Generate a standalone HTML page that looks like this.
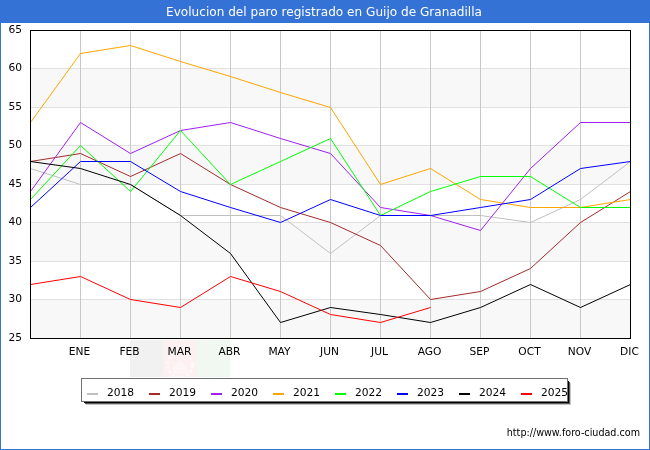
<!DOCTYPE html>
<html><head><meta charset="utf-8"><style>
html,body{margin:0;padding:0;background:#fff;}
#c{position:relative;width:650px;height:450px;overflow:hidden;background:#fff;}
svg text{font-family:"DejaVu Sans", "Liberation Sans", sans-serif;font-size:10.67px;fill:#000;}
</style></head><body><div id="c">
<svg width="650" height="450" viewBox="0 0 650 450">
<rect x="0" y="0" width="650" height="450" fill="#fff"/>
<rect x="0" y="0" width="650" height="23" fill="#3472d6"/>
<rect x="0" y="0" width="1" height="450" fill="#3472d6"/>
<rect x="649" y="0" width="1" height="450" fill="#3472d6"/>
<rect x="0" y="449" width="650" height="1" fill="#3472d6"/>
<text x="324" y="16" text-anchor="middle" style="fill:#fff;font-size:12.1px">Evolucion del paro registrado en Guijo de Granadilla</text>
<g id="flag" opacity="1">
<rect x="130" y="340" width="33" height="37" fill="#f1f1f1"/>
<rect x="163" y="340" width="34" height="37" fill="#fdf0f0"/>
<rect x="197" y="340" width="33" height="37" fill="#f1f8f1"/>
<circle cx="180" cy="365" r="12.5" fill="none" stroke="#fff" stroke-width="3" stroke-dasharray="3 2" opacity="0.5"/>
<path d="M172 370 L180 360 L188 370 Z" fill="#fff" opacity="0.4"/>
<rect x="173" y="371" width="14" height="2" fill="#fff" opacity="0.4"/>
</g>
<rect x="30" y="68" width="600" height="39" fill="#f8f8f8"/>
<rect x="30" y="145" width="600" height="39" fill="#f8f8f8"/>
<rect x="30" y="222" width="600" height="39" fill="#f8f8f8"/>
<rect x="30" y="299" width="600" height="39" fill="#f8f8f8"/>
<rect x="30" y="68" width="600" height="1" fill="#e0e0e0"/>
<rect x="30" y="107" width="600" height="1" fill="#e0e0e0"/>
<rect x="30" y="145" width="600" height="1" fill="#e0e0e0"/>
<rect x="30" y="184" width="600" height="1" fill="#e0e0e0"/>
<rect x="30" y="222" width="600" height="1" fill="#e0e0e0"/>
<rect x="30" y="261" width="600" height="1" fill="#e0e0e0"/>
<rect x="30" y="299" width="600" height="1" fill="#e0e0e0"/>
<rect x="80" y="30" width="1" height="308" fill="#c8c8c8"/>
<rect x="130" y="30" width="1" height="308" fill="#c8c8c8"/>
<rect x="180" y="30" width="1" height="308" fill="#c8c8c8"/>
<rect x="230" y="30" width="1" height="308" fill="#c8c8c8"/>
<rect x="280" y="30" width="1" height="308" fill="#c8c8c8"/>
<rect x="330" y="30" width="1" height="308" fill="#c8c8c8"/>
<rect x="380" y="30" width="1" height="308" fill="#c8c8c8"/>
<rect x="430" y="30" width="1" height="308" fill="#c8c8c8"/>
<rect x="480" y="30" width="1" height="308" fill="#c8c8c8"/>
<rect x="530" y="30" width="1" height="308" fill="#c8c8c8"/>
<rect x="580" y="30" width="1" height="308" fill="#c8c8c8"/>
<polyline points="30.5,168.5 80.5,184.5 130.5,184.5 180.5,215.5 230.5,215.5 280.5,215.5 330.5,253.5 380.5,215.5 430.5,215.5 480.5,215.5 530.5,222.5 580.5,199.5 630.5,161.5" fill="none" stroke="#c0c0c0" stroke-width="1.0" stroke-linejoin="miter"/>
<polyline points="30.5,161.5 80.5,153.5 130.5,176.5 180.5,153.5 230.5,184.5 280.5,207.5 330.5,222.5 380.5,245.5 430.5,299.5 480.5,291.5 530.5,268.5 580.5,222.5 630.5,191.5" fill="none" stroke="#a52a2a" stroke-width="1.0" stroke-linejoin="miter"/>
<polyline points="30.5,191.5 80.5,122.5 130.5,153.5 180.5,130.5 230.5,122.5 280.5,138.5 330.5,153.5 380.5,207.5 430.5,215.5 480.5,230.5 530.5,168.5 580.5,122.5 630.5,122.5" fill="none" stroke="#a020f0" stroke-width="1.0" stroke-linejoin="miter"/>
<polyline points="30.5,122.5 80.5,53.5 130.5,45.5 180.5,61.5 230.5,76.5 280.5,92.5 330.5,107.5 380.5,184.5 430.5,168.5 480.5,199.5 530.5,207.5 580.5,207.5 630.5,199.5" fill="none" stroke="#ffa500" stroke-width="1.0" stroke-linejoin="miter"/>
<polyline points="30.5,199.5 80.5,145.5 130.5,191.5 180.5,130.5 230.5,184.5 280.5,161.5 330.5,138.5 380.5,215.5 430.5,191.5 480.5,176.5 530.5,176.5 580.5,207.5 630.5,207.5" fill="none" stroke="#00ff00" stroke-width="1.0" stroke-linejoin="miter"/>
<polyline points="30.5,207.5 80.5,161.5 130.5,161.5 180.5,191.5 230.5,207.5 280.5,222.5 330.5,199.5 380.5,215.5 430.5,215.5 480.5,207.5 530.5,199.5 580.5,168.5 630.5,161.5" fill="none" stroke="#0000ff" stroke-width="1.0" stroke-linejoin="miter"/>
<polyline points="30.5,161.5 80.5,168.5 130.5,184.5 180.5,215.5 230.5,253.5 280.5,322.5 330.5,307.5 380.5,314.5 430.5,322.5 480.5,307.5 530.5,284.5 580.5,307.5 630.5,284.5" fill="none" stroke="#000000" stroke-width="1.0" stroke-linejoin="miter"/>
<polyline points="30.5,284.5 80.5,276.5 130.5,299.5 180.5,307.5 230.5,276.5 280.5,291.5 330.5,314.5 380.5,322.5 430.5,307.5" fill="none" stroke="#ff0000" stroke-width="1.0" stroke-linejoin="miter"/>
<rect x="30.5" y="30.5" width="600" height="308" fill="none" stroke="#000" stroke-width="1" shape-rendering="crispEdges"/>
<text x="22" y="33" text-anchor="end">65</text>
<text x="22" y="71" text-anchor="end">60</text>
<text x="22" y="110" text-anchor="end">55</text>
<text x="22" y="148" text-anchor="end">50</text>
<text x="22" y="187" text-anchor="end">45</text>
<text x="22" y="225" text-anchor="end">40</text>
<text x="22" y="264" text-anchor="end">35</text>
<text x="22" y="302" text-anchor="end">30</text>
<text x="22" y="341" text-anchor="end">25</text>
<text x="79.5" y="355" text-anchor="middle">ENE</text>
<text x="129.5" y="355" text-anchor="middle">FEB</text>
<text x="179.5" y="355" text-anchor="middle">MAR</text>
<text x="229.5" y="355" text-anchor="middle">ABR</text>
<text x="279.5" y="355" text-anchor="middle">MAY</text>
<text x="329.5" y="355" text-anchor="middle">JUN</text>
<text x="379.5" y="355" text-anchor="middle">JUL</text>
<text x="429.5" y="355" text-anchor="middle">AGO</text>
<text x="479.5" y="355" text-anchor="middle">SEP</text>
<text x="529.5" y="355" text-anchor="middle">OCT</text>
<text x="579.5" y="355" text-anchor="middle">NOV</text>
<text x="629.5" y="355" text-anchor="middle">DIC</text>
<rect x="86" y="404" width="485" height="1" fill="#c4c4c4"/>
<rect x="570" y="383" width="1" height="22" fill="#c4c4c4"/>
<rect x="85" y="403" width="485" height="1" fill="#5a5a5a"/>
<rect x="569" y="382" width="1" height="22" fill="#5a5a5a"/>
<rect x="84" y="381" width="485" height="22" fill="#000"/>
<rect x="81.5" y="378.5" width="486" height="23" fill="#fff" stroke="#707070" stroke-width="1"/>
<rect x="87" y="393" width="11" height="2" fill="#c0c0c0"/>
<text x="107" y="396">2018</text>
<rect x="149" y="393" width="11" height="2" fill="#a52a2a"/>
<text x="169" y="396">2019</text>
<rect x="211" y="393" width="11" height="2" fill="#a020f0"/>
<text x="231" y="396">2020</text>
<rect x="273" y="393" width="11" height="2" fill="#ffa500"/>
<text x="293" y="396">2021</text>
<rect x="335" y="393" width="11" height="2" fill="#00ff00"/>
<text x="355" y="396">2022</text>
<rect x="397" y="393" width="11" height="2" fill="#0000ff"/>
<text x="417" y="396">2023</text>
<rect x="459" y="393" width="11" height="2" fill="#000000"/>
<text x="479" y="396">2024</text>
<rect x="521" y="393" width="11" height="2" fill="#ff0000"/>
<text x="541" y="396">2025</text>
<text x="640" y="436" text-anchor="end" style="font-size:9.6px">http://www.foro-ciudad.com</text>
</svg></div></body></html>
